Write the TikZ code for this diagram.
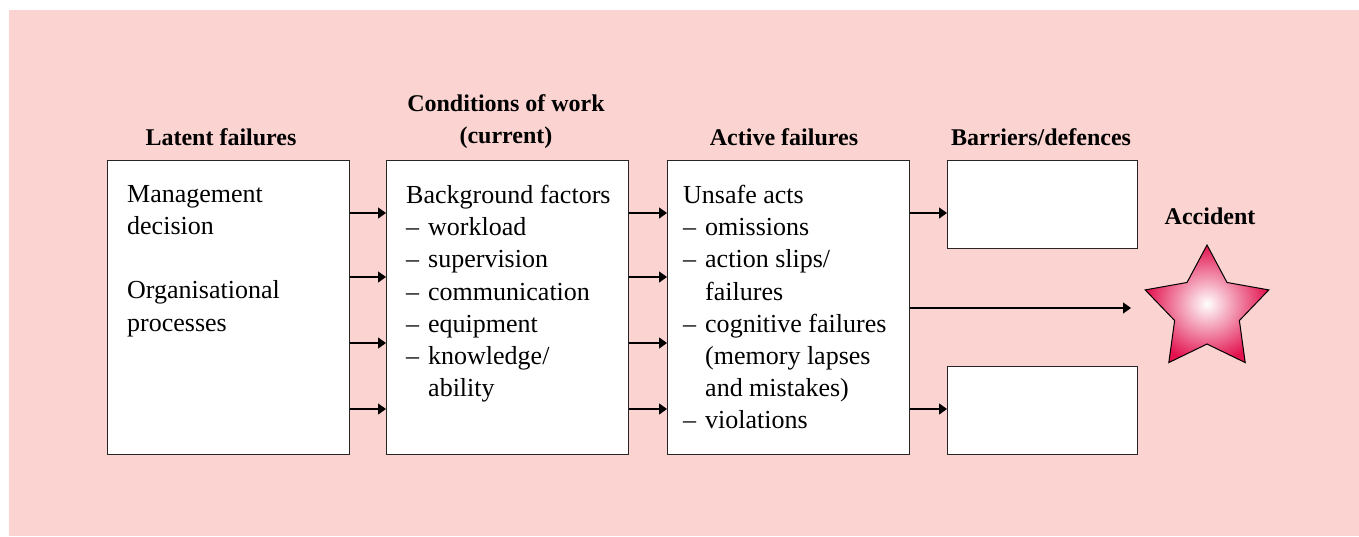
\documentclass[tikz,border=0pt]{standalone}
\usepackage{fontspec}
\setmainfont{Liberation Serif}
\usetikzlibrary{arrows.meta,shapes.geometric}
\definecolor{bgpink}{RGB}{251,211,208}
\definecolor{starred}{RGB}{226,18,78}
\newcommand{\mydash}{\makebox[22pt][l]{–}}
\newcommand{\myind}{\hspace*{22pt}}
\begin{document}
\begin{tikzpicture}[x=1pt,y=-1pt,
  box/.style={draw=black!85, line width=1.3pt, fill=white, inner sep=0, anchor=north west},
  body/.style={anchor=north west, inner sep=0, align=left, font=\fontsize{26}{32.2}\selectfont},
  head/.style={inner sep=0, align=center, font=\fontsize{24}{32}\selectfont\bfseries},
  arr/.style={line width=1.3pt, -{Triangle[length=8pt,width=11pt]}}]
\useasboundingbox (0,0) rectangle (1359,536);
\fill[bgpink] (9,10) rectangle (1359,536);
% boxes
\node[box, minimum width=242pt, minimum height=294pt] (b1) at (107,160) {};
\node[box, minimum width=242pt, minimum height=294pt] (b2) at (386,160) {};
\node[box, minimum width=242pt, minimum height=294pt] (b3) at (667,160) {};
\node[box, minimum width=190pt, minimum height=88pt] (d1) at (947,160) {};
\node[box, minimum width=190pt, minimum height=88pt] (d2) at (947,366) {};
% headings
\node[head, anchor=base] (h1) at (221,145) {Latent failures};
\node[head, anchor=north] (h2) at (506,94) {Conditions of work\\(current)};
\node[head, anchor=base] (h3) at (784,145) {Active failures};
\node[head, anchor=base] (h4) at (1041,145) {Barriers/defences};
\node[head, anchor=base] (h5) at (1210,224) {Accident};
% texts
\node[body] (t1) at (127,185) {Management\\decision\\[32.2pt]Organisational\\processes};
\node[body] (t2) at (406,185) {Background factors\\\mydash workload\\\mydash supervision\\\mydash communication\\\mydash equipment\\\mydash knowledge/\\\myind ability};
\node[body] (t3) at (683,185) {Unsafe acts\\\mydash omissions\\\mydash action slips/\\\myind failures\\\mydash cognitive failures\\\myind (memory lapses\\\myind and mistakes)\\\mydash violations};
% star
\node[star, star points=5, star point ratio=1.91, minimum size=130pt, inner sep=0,
  draw=black, line width=1pt, inner color=white, outer color=starred] (star) at (1207,310) {};
% arrow levels
\coordinate (ya) at (0,213);
\coordinate (yb) at (0,277);
\coordinate (yc) at (0,343);
\coordinate (yd) at (0,409);
\coordinate (accin) at (1131,308);
\foreach \y in {ya,yb,yc,yd}{
  \draw[arr] (b1.east |- \y) -- (b2.west |- \y);
  \draw[arr] (b2.east |- \y) -- (b3.west |- \y);
}
\draw[arr] (b3.east |- ya) -- (d1.west |- ya);
\draw[arr] (b3.east |- yd) -- (d2.west |- yd);
\draw[arr] (b3.east |- accin) -- (accin);
\end{tikzpicture}
\end{document}
